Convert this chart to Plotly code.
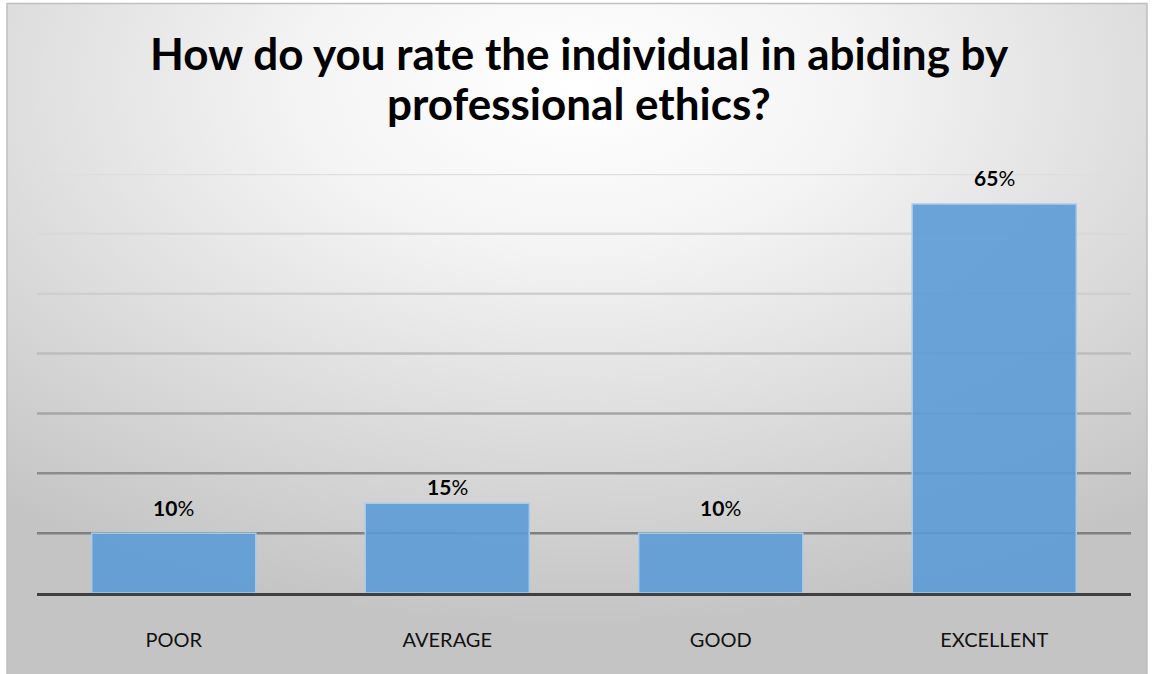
import base64
import plotly.graph_objects as go

# ---- data ----
categories = ["POOR", "AVERAGE", "GOOD", "EXCELLENT"]
values = [10, 15, 10, 65]
label_bold = ["10", "15", "10", "65"]
grid_vals = [10, 20, 30, 40, 50, 60, 70]
title_lines = ["How do you rate the individual in abiding by", "professional ethics?"]

# ---- styles ----
grid_colors = ["#7f7f7f", "#8c8c8c", "#a6a6a6", "#bdbdbd", "#cfcfcf", "#d9d9d9", "#dedede"]
label_shift = [26, 17, 26, 26]
title_y_px = [53, 103]
W, H = 1154, 674
L, R, T, B = 37, 23, 174, 81
pw, ph = W - L - R, H - T - B

svg = (
    '<svg xmlns="http://www.w3.org/2000/svg" width="1141" height="680" preserveAspectRatio="none">'
    '<defs><radialGradient id="g" cx="0.5" cy="0.12" r="0.8">'
    '<stop offset="0" stop-color="#ffffff"/>'
    '<stop offset="0.3" stop-color="#f4f4f4"/>'
    '<stop offset="1" stop-color="#c4c4c4"/>'
    '</radialGradient></defs>'
    '<rect width="1141" height="680" fill="url(#g)"/></svg>'
)
src = "data:image/svg+xml;base64," + base64.b64encode(svg.encode()).decode()

def px_to_paper_x(px):
    return (px - L) / pw

def px_to_paper_y(py):
    return (H - B - py) / ph

fig = go.Figure()
fig.add_trace(go.Bar(
    x=categories, y=values,
    marker=dict(color="rgba(91,155,213,0.9)", line=dict(color="#a9cbea", width=1.5)),
    width=0.6, hoverinfo="skip",
))

shapes = []
for v, c in zip(grid_vals, grid_colors):
    shapes.append(dict(type="line", xref="paper", yref="y", x0=0, x1=1, y0=v, y1=v,
                       line=dict(color=c, width=2.5), layer="below"))
# frame
shapes.append(dict(type="rect", xref="paper", yref="paper",
                   x0=px_to_paper_x(7), x1=px_to_paper_x(1147),
                   y0=px_to_paper_y(680), y1=px_to_paper_y(3.5),
                   line=dict(color="#bfbfbf", width=1.5), fillcolor="rgba(0,0,0,0)", layer="below"))

annotations = []
for c, v, b, s in zip(categories, values, label_bold, label_shift):
    annotations.append(dict(x=c, y=v, xref="x", yref="y", text=f"<b>{b}</b>%",
                            showarrow=False, yanchor="middle", yshift=s,
                            font=dict(family="Lato", size=21, color="#000000")))
for line, ypx in zip(title_lines, title_y_px):
    annotations.append(dict(x=px_to_paper_x(579), y=px_to_paper_y(ypx), xref="paper", yref="paper",
                            text=f"<b>{line}</b>", showarrow=False,
                            xanchor="center", yanchor="middle",
                            font=dict(family="Lato", size=44, color="#000000")))

fig.update_layout(
    width=W, height=H,
    margin=dict(l=L, r=R, t=T, b=B),
    paper_bgcolor="#ffffff", plot_bgcolor="rgba(0,0,0,0)",
    showlegend=False,
    images=[dict(source=src, xref="paper", yref="paper",
                 x=px_to_paper_x(7), y=px_to_paper_y(3.5),
                 sizex=px_to_paper_x(1147) - px_to_paper_x(7),
                 sizey=px_to_paper_y(3.5) - px_to_paper_y(680),
                 xanchor="left", yanchor="top", sizing="stretch", layer="below")],
    shapes=shapes,
    annotations=annotations,
    xaxis=dict(showline=True, linecolor="#404040", linewidth=3, showgrid=False,
               ticks="", ticklabelstandoff=27, fixedrange=True,
               tickfont=dict(family="Lato", size=20, color="#111111")),
    yaxis=dict(range=[0, 70], showgrid=False, zeroline=False, showticklabels=False,
               showline=False, fixedrange=True),
)

fig.write_html("out.html", config={"displayModeBar": False},
               post_script="document.body.style.margin='0';")
